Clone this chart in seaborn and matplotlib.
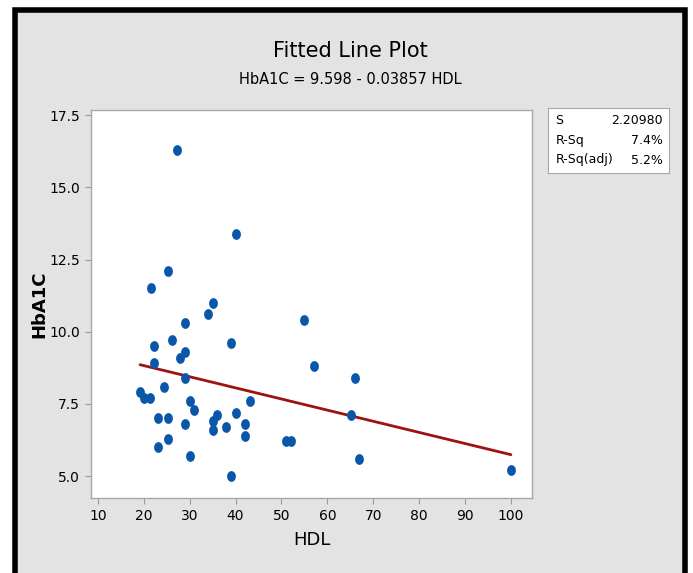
import numpy as np
import pandas as pd
import matplotlib
matplotlib.use("Agg")
import matplotlib.pyplot as plt
import matplotlib.patches as patches
import seaborn as sns

# Data
hdl = [21.5, 35, 34, 55, 29, 26.2, 22.2, 39, 29, 27.9, 22.2, 57, 29, 24.3,
       19.2, 20.1, 21.3, 30, 31, 43.2, 40, 23.2, 25.3, 36, 35, 29, 42, 38,
       35, 42, 25.3, 23.2, 51, 52, 30, 39, 27.2, 40, 25.2, 66.1, 65.2, 67, 100]
hba1c = [11.5, 11.0, 10.6, 10.4, 10.3, 9.7, 9.5, 9.6, 9.3, 9.1, 8.9, 8.8, 8.4, 8.1,
         7.9, 7.7, 7.7, 7.6, 7.3, 7.6, 7.2, 7.0, 7.0, 7.1, 6.9, 6.8, 6.8, 6.7,
         6.6, 6.4, 6.3, 6.0, 6.2, 6.2, 5.7, 5.0, 16.3, 13.4, 12.1, 8.4, 7.1, 5.6, 5.2]
intercept = 9.598
slope = -0.03857
stat_names = ["S", "R-Sq", "R-Sq(adj)"]
stat_values = ["2.20980", "7.4%", "5.2%"]
x_ticks = [10, 20, 30, 40, 50, 60, 70, 80, 90, 100]
y_ticks = [5.0, 7.5, 10.0, 12.5, 15.0, 17.5]

df = pd.DataFrame({"HDL": hdl, "HbA1C": hba1c})
fit = pd.DataFrame({"HDL": [min(hdl), max(hdl)]})
fit["HbA1C"] = intercept + slope * fit["HDL"]

sns.set_style("white")
plt.rcParams["font.family"] = ["DejaVu Sans"]
plt.rcParams["text.color"] = "black"
plt.rcParams["axes.labelcolor"] = "black"
plt.rcParams["xtick.color"] = "black"
plt.rcParams["ytick.color"] = "black"

# slightly tall dot, like the reference markers
t = np.linspace(0, 2 * np.pi, 40)
dot = np.column_stack([0.82 * np.cos(t), np.sin(t)])

fig = plt.figure(figsize=(6.93, 5.73), dpi=100, facecolor="white")

# grey panel with black frame
fig.patches.append(patches.Rectangle((15 / 693, -0.05), 670 / 693, 1 - 10 / 573 + 0.05,
                                     transform=fig.transFigure, facecolor="#E3E3E3",
                                     edgecolor="black", linewidth=4, zorder=-5))

ax = fig.add_axes([91 / 693, 1 - 498 / 573, 441 / 693, 388 / 573])
ax.set_facecolor("white")
sns.lineplot(data=fit, x="HDL", y="HbA1C", color="#9E1212", linewidth=2, ax=ax)
sns.scatterplot(data=df, x="HDL", y="HbA1C", color="#0A56A8", s=60, marker=dot,
                edgecolor="#0A56A8", linewidth=0, ax=ax, zorder=3)

ax.set_xlim(8.5, 104.6)
ax.set_ylim(4.24, 17.68)
ax.set_xticks(x_ticks)
ax.set_yticks(y_ticks)
ax.set_yticklabels([f"{v:.1f}" for v in y_ticks])
ax.tick_params(axis="both", direction="out", length=4, color="#9A9A9A",
               labelsize=10, bottom=True, left=True, pad=4)
for sp in ax.spines.values():
    sp.set_color("#A8A8A8")
    sp.set_linewidth(1)
ax.set_xlabel("HDL", fontsize=13)
ax.set_ylabel("HbA1C", fontsize=13, fontweight="bold")
ax.xaxis.set_label_coords(0.5, -0.085)
ax.yaxis.set_label_coords(-0.096, 0.5)

fig.text(0.505, 1 - 51 / 573, "Fitted Line Plot", ha="center", va="center",
         fontsize=15, fontweight="medium")
fig.text(0.505, 1 - 79 / 573, "HbA1C = 9.598 - 0.03857 HDL", ha="center", va="center",
         fontsize=10.5)

# statistics box
box = fig.add_axes([548 / 693, 1 - 173 / 573, 121 / 693, 65 / 573])
box.set_facecolor("white")
box.set_xticks([])
box.set_yticks([])
for sp in box.spines.values():
    sp.set_color("#A8A8A8")
for i, (n, v) in enumerate(zip(stat_names, stat_values)):
    yy = 0.8 - i * 0.3
    box.text(0.06, yy, n, ha="left", va="center", fontsize=9, transform=box.transAxes)
    box.text(0.95, yy, v, ha="right", va="center", fontsize=9, transform=box.transAxes)

fig.savefig("out.png", dpi=100)
